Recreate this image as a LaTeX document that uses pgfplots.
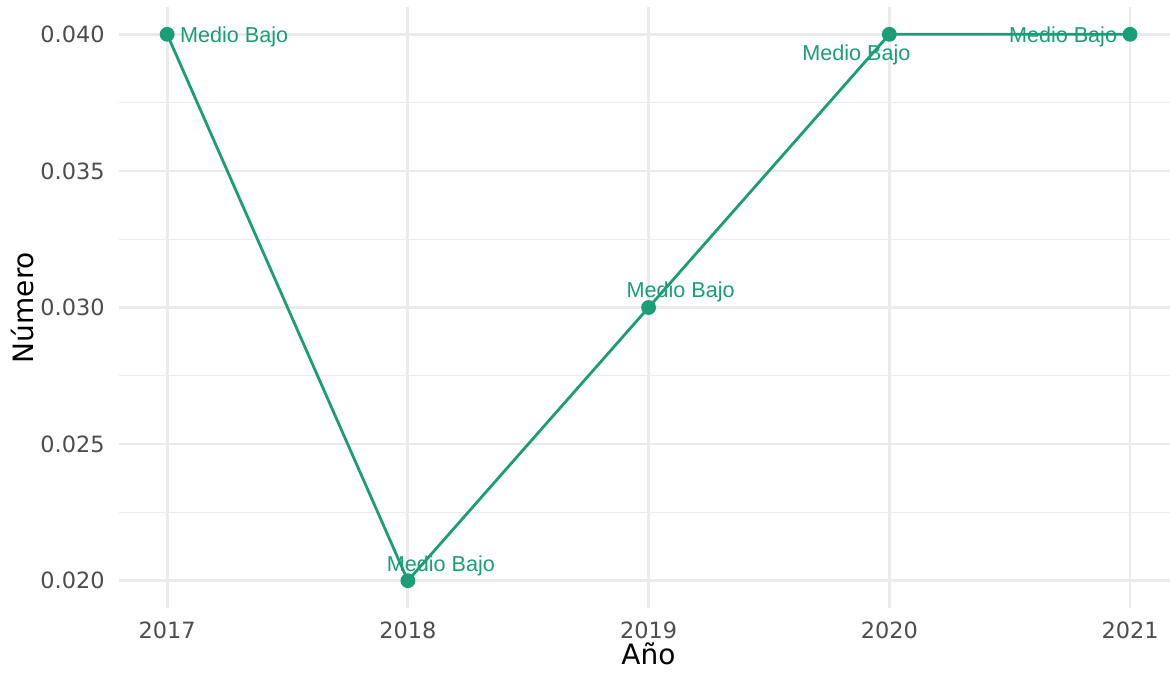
\documentclass[border=0pt]{standalone}
\usepackage{pgfplots}
\pgfplotsset{compat=1.18}
\usepackage{pgfplotstable}
\usepackage{fontspec}
\setmainfont{DejaVu Sans}
\newfontfamily\labfont{Liberation Sans}
\definecolor{verde}{HTML}{1B9E77}
\definecolor{grisgrid}{HTML}{EBEBEB}
\definecolor{gristick}{HTML}{4D4D4D}

% anio, valor, desplazamiento de la etiqueta (pt)
\pgfplotstableread{
anio valor dx dy
2017 0.040 33.5 0
2018 0.020 16.5 8.5
2019 0.030 16 9
2020 0.040 -16.5 -9
2021 0.040 -33.5 0
}\datos

\begin{document}
\begin{tikzpicture}
\useasboundingbox (0,0) rectangle (585pt,337.5pt);
\begin{axis}[
    at={(59.5pt,33.5pt)}, anchor=south west,
    scale only axis, width=525.5pt, height=300.5pt,
    xmin=2016.8, xmax=2021.166,
    ymin=0.019, ymax=0.041,
    xtick={2017,2018,2019,2020,2021},
    ytick={0.020,0.025,0.030,0.035,0.040},
    minor ytick={0.0225,0.0275,0.0325,0.0375},
    scaled y ticks=false,
    /pgf/number format/assume math mode=true,
    /pgf/number format/1000 sep={},
    yticklabel style={/pgf/number format/fixed, /pgf/number format/fixed zerofill,
        /pgf/number format/precision=3, xshift=-7pt},
    ticklabel style={font=\fontsize{11.2}{13}\selectfont, text=gristick, inner sep=0pt},
    xticklabel style={yshift=-6.5pt},
    axis line style={draw=none},
    major tick length=0pt, minor tick length=0pt,
    xmajorgrids, ymajorgrids, yminorgrids,
    major grid style={color=grisgrid, line width=1.4pt},
    minor grid style={color=grisgrid, line width=0.7pt},
    xlabel={Año}, ylabel={Número},
    label style={font=\fontsize{14}{16}\selectfont, text=black},
    xlabel style={at={(axis description cs:0.5038,-0.0932)}, anchor=base},
    ylabel style={at={(axis description cs:-0.0818,0.5)}, anchor=base},
    clip=false,
]
\addplot[color=verde, line width=1.4pt, mark=*, mark size=3pt,
    mark options={fill=verde, draw=none},
    nodes near coords={Medio Bajo},
    visualization depends on={\thisrow{dx}\as\dx},
    visualization depends on={\thisrow{dy}\as\dy},
    every node near coord/.append style={anchor=center, text depth=0pt,
        xshift=\dx pt, yshift=\dy pt, text=verde,
        font=\labfont\fontsize{10.8}{12}\selectfont}]
    table[x=anio, y=valor] {\datos};
\end{axis}
\end{tikzpicture}
\end{document}
